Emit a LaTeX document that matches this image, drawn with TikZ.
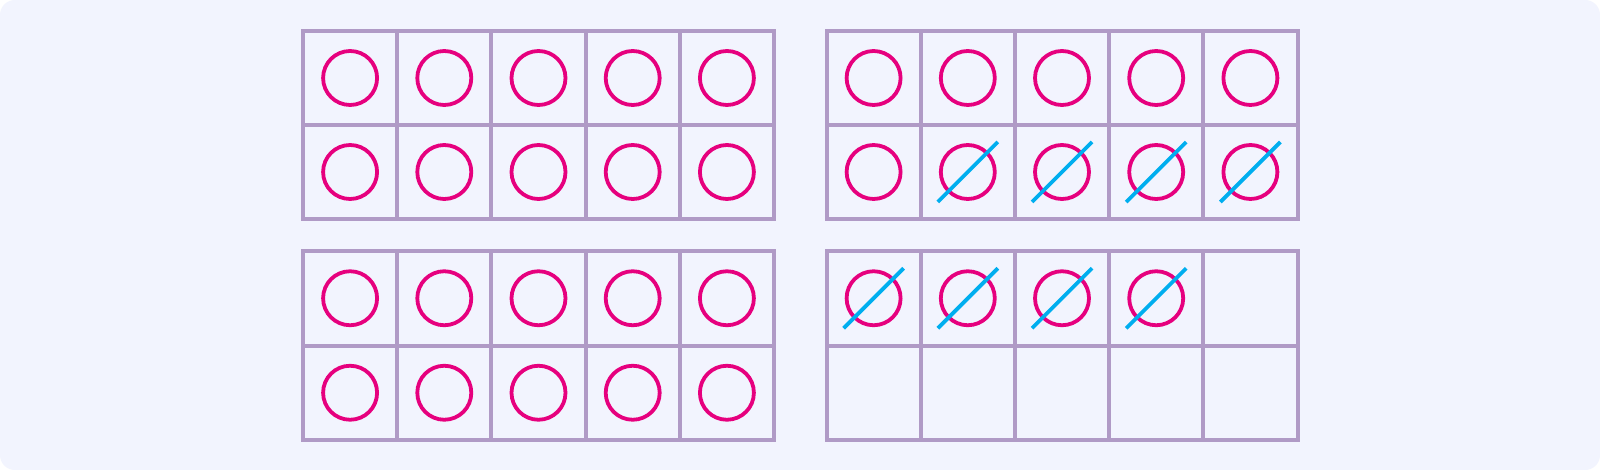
\documentclass[tikz,border=0pt]{standalone}
\definecolor{bgc}{HTML}{F2F4FE}
\definecolor{gridc}{HTML}{B09AC6}
\definecolor{mag}{HTML}{E6007E}
\definecolor{sky}{HTML}{00AEEF}
\tikzset{
  frameline/.style={draw=gridc, line width=4pt},
  counter/.style={circle, draw=mag, line width=3.8pt, minimum size=54pt, inner sep=0pt},
  slashline/.style={draw=sky, line width=3.8pt}
}
\newcommand\tenframe[6]{% name, x0, y0, height, number of counters, first slashed counter
  \begin{scope}[shift={(#2,#3)}]
    \draw[frameline] (0,0) rectangle (471,#4);
    \foreach \c in {1,...,4} \draw[frameline] (\c*94.2,0) -- (\c*94.2,#4);
    \draw[frameline] (0,#4/2) -- (471,#4/2);
    \foreach \k in {1,...,#5} {
      \pgfmathtruncatemacro\row{(\k-1)/5}
      \pgfmathtruncatemacro\col{mod(\k-1,5)}
      \node[counter] (#1-\k) at ({(\col+0.5)*94.2},{(\row+0.5)*#4/2}) {};
      \ifnum\k<#6\relax\else
        \draw[slashline] ([shift={(-30,30)}]#1-\k.center) -- ([shift={(30,-30)}]#1-\k.center);
      \fi
    }
  \end{scope}
}
\begin{document}
\begin{tikzpicture}[x=1pt,y=-1pt]
\useasboundingbox (0,0) rectangle (1600,470);
\fill[white] (0,0) rectangle (1600,470);
\fill[bgc, rounded corners=15pt] (0,0) rectangle (1600,470);
\tenframe{a}{303}{31}{188}{10}{11}
\tenframe{b}{826.5}{31}{188}{10}{7}
\tenframe{c}{303}{251}{189}{10}{11}
\tenframe{d}{826.5}{251}{189}{4}{1}
\end{tikzpicture}
\end{document}
